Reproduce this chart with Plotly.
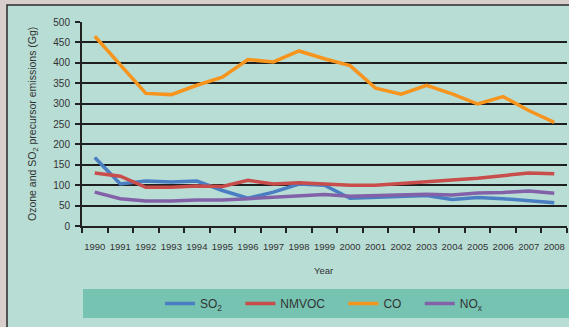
import plotly.graph_objects as go

years = [str(y) for y in range(1990, 2009)]
so2 = [168, 103, 110, 108, 110, 87, 68, 83, 103, 100, 68, 70, 72, 75, 65, 70, 67, 63, 57]
nmvoc = [130, 122, 95, 95, 98, 97, 112, 103, 106, 103, 100, 100, 105, 108, 113, 117, 124, 130, 128]
co = [465, 395, 325, 322, 345, 365, 408, 402, 429, 410, 393, 338, 323, 345, 324, 299, 317, 283, 254]
nox = [83, 67, 61, 61, 64, 64, 67, 70, 74, 77, 73, 75, 76, 78, 76, 81, 82, 86, 80]

series = [
    ("SO<sub>2</sub>", so2, "#4a7ec2"),
    ("NMVOC", nmvoc, "#c84d4b"),
    ("CO", co, "#f7941d"),
    ("NO<sub>x</sub>", nox, "#8361a8"),
]

fig = go.Figure()
for name, vals, col in series:
    fig.add_trace(go.Scatter(x=years, y=vals, name=name + "\u00a0" * 4, mode="lines",
                             line=dict(color=col, width=3.5)))

L, T, B, R = 82, 22, 101, 2
W, H = 569, 327
pw = W - L - R
ph = H - T - B

def px(x):
    return (x - L) / pw

def py(y):
    return (H - B - y) / ph

fig.update_layout(
    width=W, height=H,
    margin=dict(l=L, r=R, t=T, b=B, autoexpand=False),
    paper_bgcolor="#d8cfcd",
    plot_bgcolor="#76c3b1",
    font=dict(family="Liberation Sans, Arial", size=9.5, color="#333"),
    showlegend=True,
    legend=dict(orientation="h", x=px(160), xanchor="left", y=py(303.5), yanchor="middle",
                bgcolor="rgba(0,0,0,0)", font=dict(size=12, color="#333"),
                itemwidth=30),
    shapes=[
        dict(type="rect", xref="paper", yref="paper", x0=px(7), x1=px(580), y0=py(335), y1=py(5),
             fillcolor="#b8ddd5", line=dict(color="#2a2a2a", width=1.5), layer="below"),
        dict(type="rect", xref="paper", yref="paper", x0=px(83), x1=px(569), y0=py(318), y1=py(289),
             fillcolor="#76c3b1", line=dict(width=0), layer="below"),
    ],
    annotations=[
        dict(text="Year", xref="paper", yref="paper", x=px(323), y=py(270), showarrow=False,
             xanchor="center", yanchor="middle", font=dict(size=9.5, color="#333")),
        dict(text="Ozone and SO<sub>2</sub> precursor emissions (Gg)", xref="paper", yref="paper",
             x=px(33), y=py(124), textangle=-90, showarrow=False, xanchor="center", yanchor="middle",
             font=dict(size=10.5, color="#333")),
    ],
)
fig.update_xaxes(type="category", range=[-0.5, len(years) - 0.5], tickson="boundaries",
                 ticks="outside", ticklen=5,
                 tickcolor="#222", tickwidth=1.5, showline=True, linecolor="#222", linewidth=2,
                 showgrid=False, tickangle=0, automargin=False, ticklabelstandoff=11,
                 tickfont=dict(size=9.5, color="#333"))
fig.update_yaxes(range=[0, 500], dtick=50, ticks="outside", ticklen=5, tickcolor="#222", tickwidth=1.5,
                 showline=True, linecolor="#222", linewidth=2, gridcolor="#1f1f1f", gridwidth=2,
                 zeroline=False, automargin=False, ticklabelstandoff=3, tickfont=dict(size=10, color="#333"))

fig.write_html("out.html", config={"displayModeBar": False},
               post_script="document.body.style.margin='0';document.body.style.overflow='hidden';")
